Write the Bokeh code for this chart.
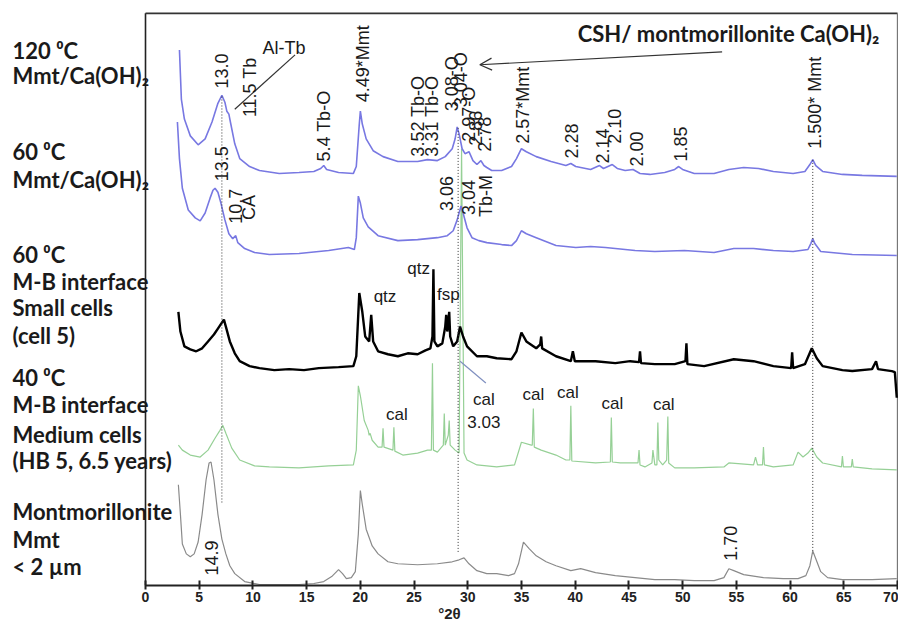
import numpy as np
from bokeh.plotting import figure
from bokeh.models import Range1d, FixedTicker, Arrow, OpenHead
from bokeh.core.properties import value
from bokeh.embed import file_html
from bokeh.resources import INLINE

# ---------------- data (2theta in degrees, intensity in arbitrary offset units) ----------------
t120_x = [3.16, 3.34, 3.62, 4.17, 4.90, 5.55, 6.19, 6.74, 7.11, 7.39, 7.57, 7.76, 7.94, 8.31, 8.77, 9.69, 10.61, 12.45, 14.29, 15.67,
          16.31, 16.59, 16.86, 17.97, 19.35, 19.62, 19.90, 20.00, 20.18, 20.54, 21.19, 22.11, 23.49, 25.33, 26.25, 27.17, 27.90, 28.55, 28.82, 29.01,
          29.19, 29.47, 29.74, 30.11, 30.48, 30.85, 31.22, 31.50, 31.77, 32.23, 33.15, 34.07, 34.53, 34.99, 35.45, 36.37, 37.75, 39.13, 39.59, 40.05,
          41.43, 42.26, 42.63, 43.45, 43.91, 44.65, 45.38, 46.03, 46.95, 48.33, 49.26, 49.63, 49.99, 51.08, 52.92, 54.30, 55.68, 57.06, 58.44, 60.28,
          61.38, 61.84, 62.11, 62.39, 63.03, 64.87, 66.71, 69.93]
t120_y = [542, 492, 472, 455, 446, 452, 469, 488, 496, 489, 480, 477, 467, 447, 432, 424, 420, 417, 418, 419,
          422, 425, 421, 418, 417, 424, 467, 480, 467, 452, 440, 434, 429, 429, 431, 430, 434, 442, 452, 464,
          457, 442, 437, 439, 430, 426, 430, 425, 423, 420, 420, 424, 432, 442, 439, 434, 429, 425, 427, 424,
          421, 425, 422, 426, 422, 420, 421, 417, 416, 418, 421, 424, 421, 417, 417, 421, 423, 422, 419, 417,
          419, 426, 431, 425, 419, 416, 415, 414]

t60_x = [2.97, 3.16, 3.43, 3.98, 4.63, 5.09, 5.55, 6.01, 6.28, 6.47, 6.74, 7.02, 7.39, 7.76, 8.12, 8.40, 8.59, 9.23, 10.15, 11.53,
         14.29, 17.05, 18.89, 19.44, 19.62, 19.81, 20.00, 20.27, 20.73, 21.65, 23.49, 25.33, 27.17, 28.09, 28.64, 29.01, 29.37, 29.56, 29.93, 30.39,
         31.03, 31.77, 33.15, 34.07, 34.53, 34.99, 35.45, 36.37, 38.21, 40.05, 41.43, 42.81, 45.57, 47.41, 50.16, 52.92, 54.76, 56.60, 58.44, 60.28,
         61.66, 61.93, 62.11, 62.30, 62.85, 65.79, 69.93]
t60_y = [469, 432, 402, 380, 372, 369, 377, 392, 400, 402, 398, 387, 370, 356, 351, 354, 347, 341, 337, 335,
         336, 339, 342, 340, 352, 394, 387, 372, 363, 354, 349, 350, 352, 354, 359, 370, 384, 377, 362, 352,
         349, 347, 345, 344, 349, 359, 356, 352, 344, 342, 343, 342, 339, 338, 339, 337, 341, 341, 339, 338,
         340, 346, 351, 346, 338, 335, 334]

small_x = [3.06, 3.25, 3.62, 4.17, 4.72, 5.27, 5.82, 6.37, 6.74, 7.11, 7.30, 7.48, 7.85, 8.31, 8.77, 9.69, 10.61, 11.99, 13.37, 14.75,
           16.13, 17.97, 19.35, 19.62, 19.90, 20.18, 20.45, 20.82, 21.01, 21.19, 21.65, 22.57, 23.49, 24.41, 25.33, 26.06, 26.52, 26.71, 26.80, 26.89,
           27.17, 27.63, 27.90, 27.99, 28.09, 28.27, 28.36, 28.64, 29.01, 29.28, 29.56, 29.93, 30.85, 31.77, 32.69, 34.07, 34.53, 34.99, 35.45, 36.37,
           36.74, 36.83, 36.92, 38.21, 39.59, 39.78, 39.96, 41.89, 43.73, 45.11, 45.94, 46.03, 46.12, 47.41, 49.26, 50.26, 50.35, 50.44, 52.00, 54.76,
           56.60, 58.44, 60.10, 60.19, 60.28, 61.38, 62.02, 62.48, 63.03, 64.87, 65.79, 67.63, 68.00, 68.18, 69.47, 69.75, 69.93]
small_y = [277, 257, 242, 239, 237, 240, 247, 254, 260, 266, 269, 262, 247, 235, 227, 222, 220, 218, 219, 218,
           220, 221, 222, 232, 296, 277, 252, 247, 274, 247, 237, 234, 232, 235, 234, 238, 240, 252, 320, 247,
           242, 245, 262, 274, 257, 277, 252, 242, 247, 262, 252, 242, 232, 232, 230, 229, 237, 256, 247, 240,
           244, 252, 240, 232, 227, 237, 227, 227, 225, 227, 226, 237, 225, 224, 224, 227, 245, 224, 222, 229,
           227, 222, 220, 236, 220, 224, 240, 230, 222, 218, 217, 219, 227, 219, 217, 216, 190]

medium_x = [3.06, 3.43, 4.17, 5.09, 5.82, 6.47, 6.93, 7.20, 7.48, 8.03, 8.77, 10.15, 11.53, 14.29, 17.05, 19.35, 19.62, 19.81, 20.00, 20.36,
            20.73, 20.82, 20.91, 21.10, 21.65, 22.02, 22.11, 22.20, 23.03, 23.12, 23.21, 23.95, 25.33, 26.25, 26.61, 26.71, 26.80, 27.17, 27.72, 27.81,
            27.90, 28.18, 28.27, 28.36, 28.82, 29.19, 29.42, 29.65, 29.93, 30.85, 32.69, 34.35, 34.99, 35.91, 36.00, 36.10, 36.19, 36.83, 38.21, 39.13,
            39.50, 39.59, 39.68, 41.89, 43.27, 43.36, 43.45, 44.19, 45.84, 45.94, 46.03, 46.49, 47.14, 47.23, 47.41, 47.60, 47.69, 47.78, 48.14, 48.51,
            48.62, 48.70, 49.26, 51.08, 53.84, 54.30, 56.60, 56.78, 56.97, 57.43, 57.52, 57.61, 58.44, 60.28, 60.74, 61.20, 61.66, 62.02, 62.48, 63.03,
            64.78, 64.87, 64.96, 65.70, 65.79, 65.88, 67.63, 69.93]
medium_y = [142, 137, 132, 130, 137, 149, 157, 162, 154, 139, 127, 121, 120, 119, 121, 122, 137, 202, 192, 167,
            157, 152, 154, 147, 140, 140, 159, 140, 137, 160, 136, 132, 134, 137, 137, 225, 137, 135, 142, 174,
            142, 152, 167, 142, 137, 134, 442, 134, 127, 122, 120, 122, 145, 142, 142, 179, 140, 137, 132, 127,
            127, 182, 126, 124, 125, 170, 125, 124, 124, 137, 122, 120, 124, 137, 122, 122, 165, 127, 122, 127,
            171, 124, 119, 119, 120, 124, 122, 130, 122, 122, 140, 122, 120, 122, 135, 130, 134, 139, 130, 124,
            120, 131, 120, 120, 128, 120, 118, 117]

mmt_x = [3.06, 3.25, 3.43, 3.80, 4.17, 4.53, 4.90, 5.27, 5.64, 5.92, 6.10, 6.37, 6.74, 7.11, 7.48, 7.85, 8.31, 9.23, 10.61, 12.45,
         14.29, 15.67, 16.59, 17.33, 17.97, 18.34, 18.70, 19.16, 19.53, 19.81, 20.00, 20.18, 20.54, 21.10, 21.65, 22.57, 23.49, 25.33, 27.17, 28.55,
         29.19, 29.65, 30.11, 30.85, 31.77, 32.69, 33.79, 34.35, 34.72, 35.18, 35.73, 36.37, 37.29, 38.21, 39.59, 40.51, 41.89, 43.73, 45.57, 47.41,
         49.26, 51.08, 52.92, 53.84, 54.30, 54.76, 55.68, 57.52, 59.36, 60.74, 61.47, 61.84, 62.11, 62.39, 62.85, 63.49, 64.87, 67.63, 69.93]
mmt_y = [102, 72, 42, 32, 29, 32, 44, 72, 107, 124, 125, 107, 72, 47, 32, 20, 12, 4, 1, 1,
         1, 2, 4, 9, 16, 12, 7, 8, 14, 52, 96, 82, 57, 40, 32, 24, 22, 21, 22, 24,
         26, 28, 22, 15, 12, 12, 10, 12, 22, 44, 37, 30, 24, 20, 15, 17, 13, 10, 8, 6,
         6, 5, 5, 8, 17, 15, 11, 8, 7, 7, 10, 20, 35, 27, 14, 8, 6, 6, 7]

# reference (dotted) lines
ref_x = [7.11, 29.10, 62.11]
ref_top = [496, 464, 431]
ref_bottom = [84, 34, 35]

# axis ticks
tick_values = [0, 5, 10, 15, 20, 25, 30, 35, 40, 45, 50, 55, 60, 65, 70]

# sample labels on the left
side_text = ["120 \u2070C", "Mmt/Ca(OH)\u2082", "60 \u2070C", "Mmt/Ca(OH)\u2082",
             "60 \u2070C", "M-B interface", "Small cells", "(cell 5)",
             "40 \u2070C", "M-B interface", "Medium cells", "(HB 5, 6.5 years)",
             "Montmorillonite", "Mmt", "< 2 \u00b5m"]
side_y = [541, 516, 439, 411, 335, 308, 281, 253, 210, 183, 153, 127, 75, 47, 19]

# vertical peak annotations (x, bottom y)
vlab_text = ["13.0", "11.5 Tb", "5.4 Tb-O", "4.49*Mmt", "3.52 Tb-O", "3.31 Tb-O", "3.08-O", "3.04-O",
             "2.97-O", "2.86", "2.78", "2.57*Mmt", "2.28", "2.14", "2.10", "2.00", "1.85", "1.500* Mmt",
             "13.5", "10.7", "CA", "3.06", "3.04", "Tb-M", "14.9", "1.70"]
vlab_x = [7.11, 9.69, 16.59, 20.27, 25.33, 26.71, 28.55, 29.37,
          30.11, 30.75, 31.58, 35.18, 39.68, 42.53, 43.64, 45.66, 49.80, 62.30,
          7.11, 8.40, 9.60, 27.99, 30.11, 31.68, 6.10, 54.49]
vlab_y = [503, 474, 429, 489, 434, 434, 480, 484,
          449, 445, 439, 447, 432, 427, 447, 424, 429, 442,
          409, 366, 370, 379, 375, 373, 10, 25]

# horizontal annotations (centre x, centre y)
hlab_text = ["qtz", "qtz", "fsp", "cal", "cal", "3.03", "cal", "cal", "cal", "cal"]
hlab_x = [22.29, 25.42, 28.18, 23.39, 31.50, 31.50, 36.10, 39.31, 43.45, 48.24]
hlab_y = [292, 321, 294, 173, 188, 165, 193, 195, 184, 183]

# ---------------- figure ----------------
p = figure(width=898, height=624, output_backend="svg", toolbar_location=None,
           x_range=Range1d(-13.497, 70.09), y_range=Range1d(0, 592),
           y_axis_location=None, min_border_left=0, min_border_right=0,
           min_border_top=0, min_border_bottom=0)
p.grid.visible = False
p.outline_line_color = None
p.background_fill_color = "white"
p.border_fill_color = "white"

ax = p.xaxis[0]
ax.ticker = FixedTicker(ticks=tick_values)
ax.bounds = (0, 70)
ax.axis_line_width = 2
ax.axis_line_color = "#222222"
ax.major_tick_in = 5
ax.major_tick_out = 4
ax.major_tick_line_width = 2
ax.major_tick_line_color = "#222222"
ax.minor_tick_line_color = None
ax.major_label_standoff = 2
ax.major_label_text_font = "Liberation Sans"
ax.major_label_text_font_style = "bold"
ax.major_label_text_font_size = "14px"
ax.major_label_text_color = "#222222"
ax.axis_label = "\u00b02\u03b8"
ax.axis_label_standoff = 0
ax.axis_label_text_font = "Liberation Sans"
ax.axis_label_text_font_style = "bold"
ax.axis_label_text_font_size = "15px"
ax.axis_label_text_color = "#222222"

# frame lines (y axis, top and right)
p.segment(x0=[0, 0, 70], y0=[0, 579, 0], x1=[0, 70, 70], y1=[579, 579, 579],
          line_color=["#222222", "#333333", "#777777"], line_width=[1.6, 1.6, 1.4])

# traces
p.line(mmt_x, mmt_y, line_color="#8a8a8a", line_width=1.2)
p.line(medium_x, medium_y, line_color="#96d096", line_width=1.2)
p.line(small_x, small_y, line_color="#000000", line_width=2.4)
p.line(t60_x, t60_y, line_color="#7878e2", line_width=1.6)
p.line(t120_x, t120_y, line_color="#7878e2", line_width=1.6)

# dotted reference lines
p.segment(x0=ref_x, y0=ref_bottom, x1=ref_x, y1=ref_top, line_color="#333333",
          line_width=1, line_dash="1 2")

# connector lines
p.segment(x0=[8.31], y0=[482], x1=[13.92], y1=[537], line_color="#333333", line_width=1.2)
p.segment(x0=[29.28], y0=[227], x1=[31.68], y1=[205], line_color="#8090c0", line_width=1.2)
p.add_layout(Arrow(end=OpenHead(size=12, line_width=1.2, line_color="#333333"),
                   x_start=53.67, y_start=540, x_end=31.12, y_end=527,
                   line_color="#333333", line_width=1.2))

# annotations
p.text(x=vlab_x, y=vlab_y, text=vlab_text, angle=np.pi / 2, text_align="left",
       text_baseline="middle", text_font=value("Liberation Sans"), text_font_size="18px",
       text_color="#1a1a1a")
p.text(x=hlab_x, y=hlab_y, text=hlab_text, text_align="center", text_baseline="middle",
       text_font=value("Liberation Sans"), text_font_size="17px", text_color="#1a1a1a")
p.text(x=[10.88], y=[544], text=["Al-Tb"], text_align="left", text_baseline="middle",
       text_font=value("Liberation Sans"), text_font_size="18px", text_color="#1a1a1a")
p.text(x=[40.23], y=[559], text=["CSH/ montmorillonite Ca(OH)\u2082"], text_align="left",
       text_baseline="middle", text_font=value("Lato"), text_font_style="bold",
       text_font_size="22px", text_color="#1a1a1a")

p.text(x=[-12.38] * len(side_text), y=side_y, text=side_text, text_align="left",
       text_baseline="middle", text_font=value("Lato"), text_font_style="bold",
       text_font_size="22px", text_color="#1a1a1a")

open("out.html", "w").write(file_html(p, INLINE))
